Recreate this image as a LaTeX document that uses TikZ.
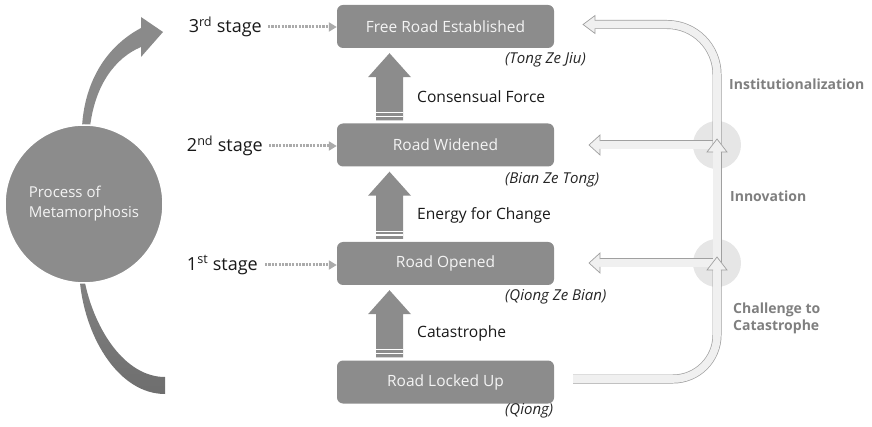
\documentclass[tikz,border=0pt]{standalone}
\usepackage{fontspec}
\setmainfont{Open Sans}
\usetikzlibrary{arrows.meta,calc}
\definecolor{boxgray}{HTML}{8C8C8C}
\definecolor{boxtext}{HTML}{F4F4F4}
\definecolor{dotgray}{HTML}{ABABAB}
\definecolor{lightfill}{HTML}{F0F0F0}
\definecolor{lightborder}{HTML}{A0A0A0}
\definecolor{halo}{HTML}{E6E6E6}
\definecolor{labgray}{HTML}{7F7F7F}
\definecolor{curvetop}{HTML}{8A8A8A}
\definecolor{curvebot}{HTML}{6E6E6E}
\tikzset{
  roadbox/.style={fill=boxgray, rounded corners=6pt, minimum width=217pt, minimum height=43pt,
    text=boxtext, font=\fontsize{15.5}{18}\selectfont, inner sep=0pt},
  romlabel/.style={font=\fontsize{15}{17}\selectfont\itshape, text=black!85, anchor=west, inner sep=0pt},
  forcelabel/.style={font=\fontsize{15.6}{18}\selectfont, text=black!90, anchor=west, inner sep=0pt},
  stagelabel/.style={font=\fontsize{18}{20}\selectfont, text=black!90, anchor=east, inner sep=0pt},
  stagearrow/.style={draw=dotgray, line width=3pt, dash pattern=on 2.2pt off 1.2pt,
    -{Triangle[length=8pt,width=9pt,fill=dotgray]}},
  sidelabel/.style={font=\fontsize{14}{17}\selectfont\bfseries, text=labgray, anchor=west, inner sep=0pt, align=left},
  band/.style={draw=lightborder, line width=0.7pt, double=lightfill, double distance=7.6pt},
  headst/.style={fill=lightfill, draw=lightborder, line width=0.7pt, line join=miter},
  halocirc/.style={circle, fill=halo, minimum size=48pt, inner sep=0pt},
}
\newcommand\blockup[2]{%
  \path ($(#2.south)+(-56,5)$) coordinate (tip) ($(#1.north)+(-56,-3)$) coordinate (bot);
  \fill[boxgray] let \p1=(tip), \p2=(bot) in
    (\x1,\y1) -- (\x1+21.5pt,\y1-24pt) -- (\x1+13.5pt,\y1-24pt) -- (\x1+13.5pt,\y2)
    -- (\x1-13.5pt,\y2) -- (\x1-13.5pt,\y1-24pt) -- (\x1-21.5pt,\y1-24pt) -- cycle;
  \draw[white, line width=1.1pt] let \p1=(tip), \p2=(bot) in
    (\x1-13.5pt,\y2+3.8pt) -- (\x1+13.5pt,\y2+3.8pt)
    (\x1-13.5pt,\y2+7.6pt) -- (\x1+13.5pt,\y2+7.6pt);
}
\begin{document}
\begin{tikzpicture}[x=1pt,y=-1pt]
\useasboundingbox (0,0) rectangle (872,427);

% big curved arrow
\fill[curvetop] (80,150) -- (82,127) .. controls (84,90) and (100,50) .. (141,28)
  -- (141,17) -- (163,32) -- (141,57) -- (141,47)
  .. controls (115,58) and (95,85) .. (90,127) -- (88,150) -- cycle;
\shade[top color=curvetop!80!curvebot, bottom color=curvebot]
  (78,260) -- (80,283) .. controls (86,340) and (120,394) .. (165,394)
  -- (165,377) .. controls (125,377) and (95,330) .. (85,283) -- (86,260) -- cycle;

% circle
\node[circle, fill=boxgray, draw=white, line width=1.5pt, minimum size=158pt, inner sep=0pt,
  text=boxtext, align=left, font=\fontsize{15}{20}\selectfont] (proc) at (84,204)
  {Process of\\Metamorphosis};

% boxes
\node[roadbox] (b4) at (445.5,26.5) {Free Road Established};
\node[roadbox] (b3) at (445.5,145) {Road Widened};
\node[roadbox] (b2) at (445.5,263.5) {Road Opened};
\node[roadbox] (b1) at (445.5,382) {Road Locked Up};

\node[romlabel] at (505,60) {(Tong Ze Jiu)};
\node[romlabel] at (505,180) {(Bian Ze Tong)};
\node[romlabel] at (505,297) {(Qiong Ze Bian)};
\node[romlabel] at (505,411) {(Qiong)};

% block arrows
\blockup{b3}{b4}
\blockup{b2}{b3}
\blockup{b1}{b2}
\node[forcelabel] at (417,97) {Consensual Force};
\node[forcelabel] at (417,215) {Energy for Change};
\node[forcelabel] at (417,333) {Catastrophe};

% stages
\node[stagelabel] (s3) at (262,27) {3\textsuperscript{rd} stage};
\node[stagelabel] (s2) at (263,146) {2\textsuperscript{nd} stage};
\node[stagelabel] (s1) at (258,265) {1\textsuperscript{st} stage};
\draw[stagearrow] ([xshift=6pt]s3.east) -- (s3.east -| b4.west);
\draw[stagearrow] ([xshift=6pt]s2.east) -- (s2.east -| b3.west);
\draw[stagearrow] ([xshift=7pt]s1.east) -- (s1.east -| b2.west);

% right side
\node[halocirc] (h2) at (717,145) {};
\node[halocirc] (h1) at (717,263) {};
\coordinate (start) at (573,379);
\coordinate (topend) at (595,24.5);

% left arrows to boxes
\draw[band] (h2.center) -- (600,145);
\path[headst] (600,141.2) -- (600,135) -- (589,145) -- (600,155) -- (600,148.8);
\draw[band] (h1.center) -- (600,263);
\path[headst] (600,259.2) -- (600,253) -- (589,263) -- (600,273) -- (600,266.8);
% top arrow
\draw[band, rounded corners=50pt] (h2.center) -- (717,24.5) -- (topend);
\path[headst] (595,20.7) -- (595,15.5) -- (583,24.5) -- (595,33.5) -- (595,28.3);
% middle up arrow
\draw[band] (h1.center) -- (717,152);
\path[headst] (713.2,152) -- (707,152) -- (717,139) -- (727,152) -- (720.8,152);
% bottom arrow
\draw[band, rounded corners=44pt] (start) -- (717,379) -- (717,270);
\path[headst] (713.2,270) -- (707,270) -- (717,257) -- (727,270) -- (720.8,270);

\node[sidelabel] at (729,84) {Institutionalization};
\node[sidelabel] at (730,196) {Innovation};
\node[sidelabel] at (733,318) {Challenge to\\Catastrophe};
\end{tikzpicture}
\end{document}
